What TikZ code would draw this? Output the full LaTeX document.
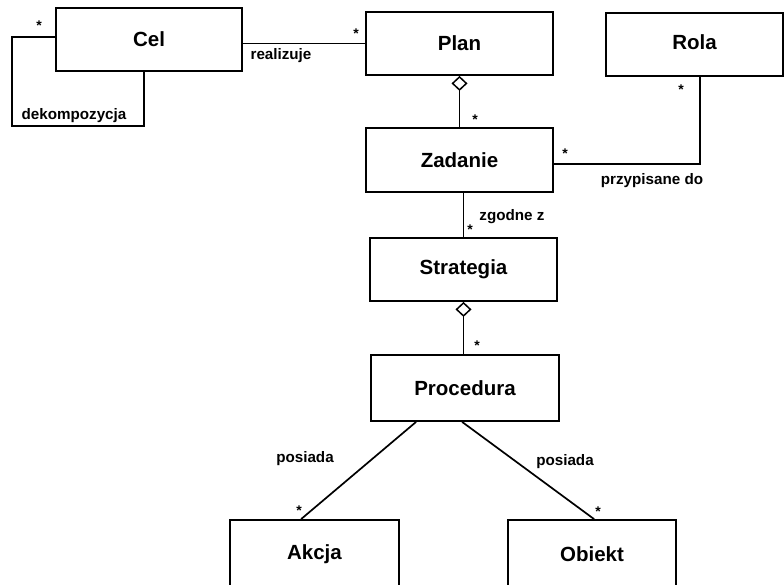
\documentclass[tikz,border=0pt]{standalone}
\usepackage{fontspec}
\setmainfont{Liberation Sans}
\usetikzlibrary{arrows.meta}
\begin{document}
\begin{tikzpicture}[x=1pt,y=-1pt,
  cls/.style={draw,line width=1.8pt,inner sep=0pt,font=\bfseries\fontsize{20.5}{24}\selectfont},
  conn/.style={line width=1.7pt},
  lbl/.style={inner sep=0pt,font=\bfseries\fontsize{15.2}{17}\selectfont},
  mult/.style={inner sep=0pt,font=\bfseries\fontsize{14}{16}\selectfont},
  agg/.style={conn,{Diamond[open,length=15pt,width=16pt,line width=1.5pt]}-}]
\useasboundingbox[fill=white] (0,0) rectangle (784,584);
% classes
\node[cls,minimum width=186pt,minimum height=63pt] (cel) at (149,39.5) {Cel};
\node[cls,minimum width=187pt,minimum height=63pt] (plan) at (459.5,43.5) {Plan};
\node[cls,minimum width=177pt,minimum height=63pt] (rola) at (694.5,44.5) {\raisebox{5pt}{Rola}};
\node[cls,minimum width=187pt,minimum height=64pt] (zadanie) at (459.5,160) {Zadanie};
\node[cls,minimum width=187pt,minimum height=63pt] (strategia) at (463.5,269.5) {Strategia};
\node[cls,minimum width=188pt,minimum height=66pt] (procedura) at (465,388) {Procedura};
\node[cls,minimum width=169pt,minimum height=68pt] (akcja) at (314.5,554) {Akcja};
\node[cls,minimum width=168pt,minimum height=68pt] (obiekt) at (592,554) {Obiekt};
% helper coordinates
\coordinate (l1) at (12,37);
\coordinate (l2) at (144,126);
\coordinate (r1) at (700,164);
% connectors
\draw[conn] (cel.west |- l1) -- (l1) |- (l2) -- (cel.south -| l2);
\draw[conn] (cel.east |- plan.west) -- (plan.west);
\draw[agg] (plan.south) -- (zadanie.north);
\draw[conn] (zadanie.east |- r1) -| (rola.south -| r1);
\draw[conn] (strategia.north |- zadanie.south) -- (strategia.north);
\draw[agg] (strategia.south) -- (strategia.south |- procedura.north);
\draw[conn] ([xshift=46pt]procedura.south west) -- ([xshift=72pt]akcja.north west);
\draw[conn] ([xshift=92pt]procedura.south west) -- ([xshift=87pt]obiekt.north west);
% labels
\node[lbl] (t1) at (74,116) {dekompozycja};
\node[lbl] (t2) at (281,56) {realizuje};
\node[lbl] (t3) at (652,181) {przypisane do};
\node[lbl] (t4) at (512,217) {zgodne z};
\node[lbl] (t5) at (305,459) {posiada};
\node[lbl] (t6) at (565,462) {posiada};
% multiplicities
\node[mult] (m1) at (39,26) {*};
\node[mult] (m2) at (356,34) {*};
\node[mult] (m3) at (475,120) {*};
\node[mult] (m4) at (681,90) {*};
\node[mult] (m5) at (565,154) {*};
\node[mult] (m6) at (470,230) {*};
\node[mult] (m7) at (477,346) {*};
\node[mult] (m8) at (299,511) {*};
\node[mult] (m9) at (598,512) {*};
\end{tikzpicture}
\end{document}
